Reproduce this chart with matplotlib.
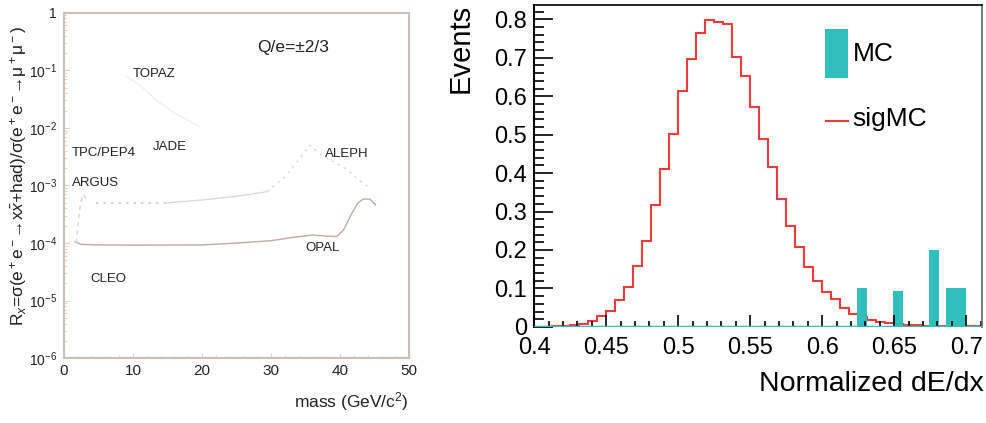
import numpy as np
import matplotlib
matplotlib.use("Agg")
import matplotlib.pyplot as plt
from matplotlib.patches import Rectangle
from matplotlib.lines import Line2D
from matplotlib.ticker import MultipleLocator, LogLocator, NullFormatter

plt.rcParams['font.family'] = ['Liberation Sans', 'DejaVu Sans']
plt.rcParams['mathtext.fontset'] = 'custom'
plt.rcParams['mathtext.rm'] = 'Liberation Sans'
plt.rcParams['mathtext.it'] = 'Liberation Sans:italic'

# ---- left panel: R_x limits vs mass (scanned figure) ----
opal_mass = [1.6, 2.5, 5, 10, 20, 25, 30, 33, 36, 38, 39.5, 40.5, 41.5, 42.5, 43.3, 44.3, 45.1]
opal_rx = [1.05e-4, 9.5e-5, 9.3e-5, 9.2e-5, 9.3e-5, 1.0e-4, 1.1e-4, 1.25e-4, 1.38e-4, 1.32e-4,
           1.3e-4, 1.7e-4, 3.0e-4, 4.9e-4, 5.8e-4, 5.8e-4, 4.6e-4]
argus_mass = [1.8, 2.1, 2.4, 2.8, 3.2]
argus_rx = [1.0e-4, 2.5e-4, 5.0e-4, 7.0e-4, 6.0e-4]
tpc_mass = [4.7, 7, 10, 12.5, 14.9]
tpc_rx = [5.0e-4, 5.0e-4, 5.0e-4, 5.0e-4, 5.0e-4]
jade_mass = [14.9, 20, 25, 29.4]
jade_rx = [5.0e-4, 5.6e-4, 6.5e-4, 7.8e-4]
aleph_mass = [29.4, 32, 34, 35.6, 37, 39, 41, 42.5, 44.3]
aleph_rx = [7.8e-4, 1.4e-3, 2.8e-3, 5.0e-3, 3.6e-3, 2.6e-3, 1.9e-3, 1.3e-3, 9.0e-4]
topaz_mass = [9.1, 11, 13.4, 16, 19.7]
topaz_rx = [7.8e-2, 5.5e-2, 3.0e-2, 1.8e-2, 1.05e-2]

left_labels = ["TOPAZ", "JADE", "TPC/PEP4", "ARGUS", "ALEPH", "OPAL", "CLEO"]
left_label_x = [13.0, 15.3, 1.1, 1.1, 41.0, 37.5, 6.5]
left_label_y = [10**-1.06, 10**-2.33, 10**-2.44, 10**-2.96, 10**-2.45, 10**-4.09, 10**-4.63]
left_label_ha = ["center", "center", "left", "left", "center", "center", "center"]

ytick_vals = [1e-6, 1e-5, 1e-4, 1e-3, 1e-2, 1e-1, 1]
ytick_text = ["10$^{-6}$", "10$^{-5}$", "10$^{-4}$", "10$^{-3}$", "10$^{-2}$", "10$^{-1}$", "1"]

# ---- right panel: normalized dE/dx ----
sig_lo, sig_hi, sig_nbins = 0.4, 0.7125, 50
sigmc = [0.0, 0.001, 0.002, 0.003, 0.005, 0.008, 0.016, 0.029, 0.042, 0.069,
         0.103, 0.159, 0.223, 0.318, 0.410, 0.502, 0.613, 0.696, 0.765, 0.799,
         0.793, 0.789, 0.703, 0.652, 0.573, 0.489, 0.415, 0.332, 0.262, 0.208,
         0.156, 0.119, 0.092, 0.072, 0.048, 0.034, 0.026, 0.019, 0.0135, 0.009,
         0.007, 0.005, 0.004, 0.003, 0.002, 0.003, 0.002, 0.002, 0.002, 0.002]
mc_left = [0.6242, 0.6490, 0.6739, 0.6861]
mc_right = [0.6313, 0.6563, 0.6810, 0.6998]
mc_counts = [0.1, 0.094, 0.2, 0.1]

teal = "#31bfbc"
red = "#f23a3a"
scan_text = "#222222"
scan_frame = "#c9c1b9"

fig = plt.figure(figsize=(9.87, 4.23), dpi=100)

# left
ax1 = fig.add_axes([0.0648, 0.153, 0.3499, 0.817])
ax1.set_yscale("log")
ax1.set_xlim(0, 50)
ax1.set_ylim(1e-6, 1)
ax1.plot(opal_mass, opal_rx, color="#b9ada4", lw=1.0)
ax1.plot(argus_mass, argus_rx, color="#d2d2d2", lw=1.0, ls=(0, (3, 3)))
ax1.plot(tpc_mass, tpc_rx, color="#cdcdcd", lw=1.2, ls=(0, (1.5, 3)))
ax1.plot(jade_mass, jade_rx, color="#d8d8d8", lw=0.9)
ax1.plot(aleph_mass, aleph_rx, color="#dadada", lw=1.0, ls=(0, (2, 3)))
ax1.plot(topaz_mass, topaz_rx, color="#f0f0f0", lw=1.0)
for s in ax1.spines.values():
    s.set_color(scan_frame)
    s.set_linewidth(1.5)
ax1.xaxis.set_major_locator(MultipleLocator(10))
ax1.xaxis.set_minor_locator(MultipleLocator(2))
ax1.set_yticks(ytick_vals)
ax1.set_yticklabels(ytick_text)
ax1.yaxis.set_minor_locator(LogLocator(base=10, subs=np.arange(2, 10)))
ax1.yaxis.set_minor_formatter(NullFormatter())
ax1.tick_params(which="both", direction="in", color="#d8d0c8", top=False, right=False)
ax1.tick_params(axis="x", labelsize=11, labelcolor=scan_text, pad=4)
ax1.tick_params(axis="y", labelsize=10, labelcolor=scan_text, pad=5)
for lab, x, y, ha in zip(left_labels, left_label_x, left_label_y, left_label_ha):
    ax1.text(x, y, lab, fontsize=9.5, color=scan_text, ha=ha, va="center")
ax1.text(33.2, 10**-0.61, "Q/e=\u00b12/3", fontsize=12.5, color=scan_text, ha="center", va="center")
fig.text(409 / 987, 1 - 401.7 / 423, "mass (GeV/c$^2$)", fontsize=12.5, color=scan_text,
         ha="right", va="center")
fig.text(0.019, 0.585,
         "R$_x$=\u03c3(e$^+$e$^-$\u2192x$\\bar{x}$+had)/\u03c3(e$^+$e$^-$\u2192\u03bc$^+$\u03bc$^-$)",
         fontsize=12.5, color=scan_text, rotation=90, ha="center", va="center")

# right
ax2 = fig.add_axes([0.5413, 0.2272, 0.4536, 0.7617])
edges = np.linspace(sig_lo, sig_hi, sig_nbins + 1)
ax2.stairs(sigmc, edges, color=red, lw=1.5, baseline=None)
mc_w = np.array(mc_right) - np.array(mc_left)
ax2.bar(mc_left, mc_counts, width=mc_w, align="edge", color=teal, lw=0)
ax2.axhline(0, color=teal, lw=2.5, zorder=3)
ax2.set_xlim(0.4, 0.711)
ax2.set_ylim(0, 0.838)
ax2.xaxis.set_major_locator(MultipleLocator(0.05))
ax2.xaxis.set_minor_locator(MultipleLocator(0.01))
ax2.yaxis.set_major_locator(MultipleLocator(0.1))
ax2.yaxis.set_minor_locator(MultipleLocator(0.02))
ax2.set_xticks([0.4, 0.45, 0.5, 0.55, 0.6, 0.65, 0.7])
ax2.set_xticklabels(["0.4", "0.45", "0.5", "0.55", "0.6", "0.65", "0.7"])
ax2.set_yticks([0, 0.1, 0.2, 0.3, 0.4, 0.5, 0.6, 0.7, 0.8])
ax2.set_yticklabels(["0", "0.1", "0.2", "0.3", "0.4", "0.5", "0.6", "0.7", "0.8"])
ax2.tick_params(which="both", direction="in", top=False, right=False, labelsize=17, width=1.2)
ax2.tick_params(axis="y", which="major", length=14, pad=5)
ax2.tick_params(axis="y", which="minor", length=7)
ax2.tick_params(axis="x", which="major", length=9, pad=7)
ax2.tick_params(axis="x", which="minor", length=4.5)
ax2.spines["left"].set_linewidth(1.5)
ax2.spines["top"].set_linewidth(1.2)
ax2.spines["right"].set_color("#666666")
ax2.spines["right"].set_linewidth(1.2)
ax2.spines["bottom"].set_visible(False)

# legend
ax2.add_patch(Rectangle((0.649, 0.7734), 0.0514, 0.150, transform=ax2.transAxes,
                        color=teal, lw=0))
ax2.text(0.711, 0.847, "MC", transform=ax2.transAxes, fontsize=19, ha="left", va="center")
ax2.add_line(Line2D([0.651, 0.700], [0.638, 0.638], transform=ax2.transAxes, color=red, lw=1.5))
ax2.text(0.711, 0.645, "sigMC", transform=ax2.transAxes, fontsize=19, ha="left", va="center")

fig.text(461 / 987, 1 - 3.5 / 423, "Events", fontsize=21, rotation=90, ha="center", va="top")
fig.text(984 / 987, 1 - 384 / 423, "Normalized dE/dx", fontsize=20.5, ha="right", va="center")

fig.savefig("out.png", dpi=100)
